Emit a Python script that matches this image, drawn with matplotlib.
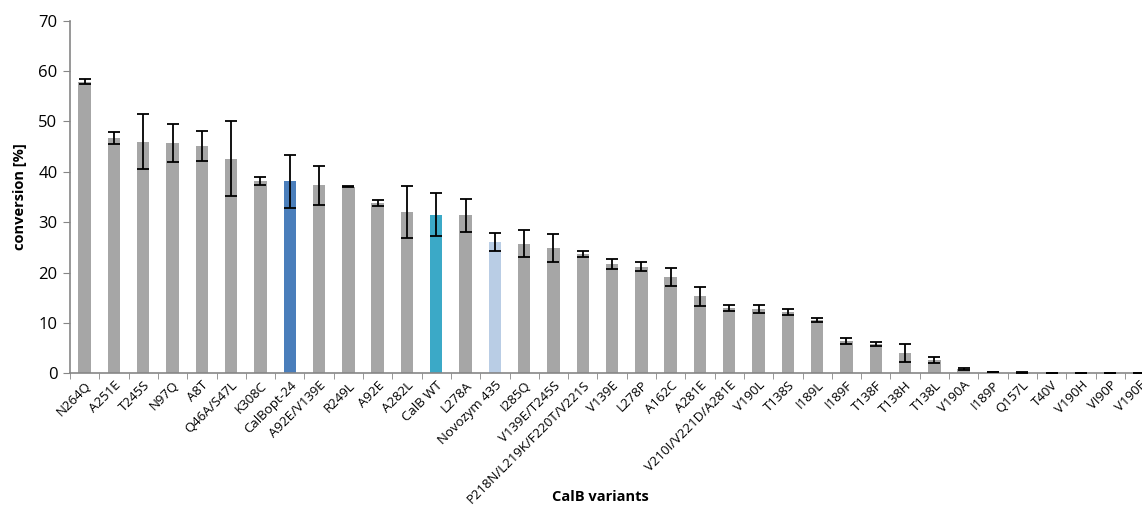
import matplotlib
matplotlib.use("Agg")
import matplotlib.pyplot as plt
import numpy as np

variants = [
    "N264Q", "A251E", "T245S", "N97Q", "A8T", "Q46A/S47L", "K308C",
    "CalBopt-24", "A92E/V139E", "R249L", "A92E", "A282L", "CalB WT",
    "L278A", "Novozym 435", "I285Q", "V139E/T245S",
    "P218N/L219K/F220T/V221S", "V139E", "L278P", "A162C", "A281E",
    "V210I/V221D/A281E", "V190L", "T138S", "I189L", "I189F", "T138F",
    "T138H", "T138L", "V190A", "I189P", "Q157L", "T40V", "V190H",
    "VI90P", "V190F",
]
conversion = [
    57.9, 46.7, 46.0, 45.7, 45.1, 42.6, 38.2,
    38.1, 37.3, 37.0, 33.8, 32.0, 31.5,
    31.4, 26.0, 25.7, 24.8,
    23.7, 21.7, 21.2, 19.2, 15.3,
    13.0, 12.8, 12.2, 10.6, 6.5, 5.8,
    4.0, 2.6, 0.85, 0.25, 0.15, 0.05, 0.05,
    0.05, 0.05,
]
error = [
    0.5, 1.2, 5.4, 3.8, 3.0, 7.5, 0.8,
    5.3, 3.9, 0.1, 0.55, 5.2, 4.3,
    3.3, 1.8, 2.7, 2.8,
    0.6, 1.0, 0.9, 1.8, 1.9,
    0.6, 0.8, 0.6, 0.45, 0.6, 0.4,
    1.8, 0.55, 0.2, 0.05, 0.03, 0.0, 0.0,
    0.0, 0.0,
]

GRAY = "#a6a6a6"
highlight = {"CalBopt-24": "#4a7ebb", "CalB WT": "#3ba9c7", "Novozym 435": "#b9cde5"}
colors = [highlight.get(v, GRAY) for v in variants]

plt.rcParams["font.family"] = ["Open Sans", "DejaVu Sans"]

fig = plt.figure(figsize=(11.42, 5.11), dpi=100)
n = len(variants)
# axes runs a little past the right edge of the picture, as in the reference
ax = fig.add_axes([70 / 1142, 137.7 / 511, (n * 29.3) / 1142, 352.6 / 511])

x = np.arange(n)
ax.bar(x, conversion, width=0.42, color=colors, zorder=2)
ax.errorbar(x, conversion, yerr=error, fmt="none", ecolor="black",
            elinewidth=1.3, capsize=4.2, capthick=1.3, zorder=3)

ax.set_xlim(-0.5, n - 0.5)
ax.set_ylim(0, 70)
ax.set_yticks(range(0, 71, 10))
ax.tick_params(axis="y", labelsize=12, length=5, color="#868686", pad=4)

ax.set_xticks(x)
ax.set_xticklabels(variants, rotation=45, ha="right", rotation_mode="anchor",
                   fontsize=9.5)
ax.tick_params(axis="x", which="major", length=0, pad=4)
ax.set_xticks(np.arange(-0.5, n, 1), minor=True)
ax.tick_params(axis="x", which="minor", length=4, color="#868686")

for side in ("top", "right"):
    ax.spines[side].set_visible(False)
for side in ("left", "bottom"):
    ax.spines[side].set_color("#868686")
    ax.spines[side].set_linewidth(1.2)

ax.set_ylabel("conversion [%]", fontsize=10.5, fontweight="bold", labelpad=8)
fig.text(600 / 1142, 1 - 497 / 511, "CalB variants", ha="center", va="center",
         fontsize=10.5, fontweight="bold")

fig.savefig("out.png", dpi=100)
